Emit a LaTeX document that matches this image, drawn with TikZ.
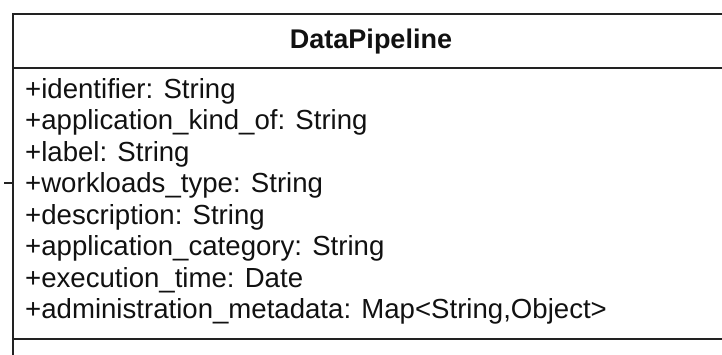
\documentclass[tikz,border=0pt]{standalone}
\usepackage{fontspec}
\setmainfont{Liberation Sans}
\usepackage{xcolor}
\usetikzlibrary{positioning}
\definecolor{umlline}{HTML}{222222}
\definecolor{umltext}{HTML}{111111}

\begin{document}
\begin{tikzpicture}[x=1pt, y=-1pt,
  classname/.style={anchor=base, inner sep=0pt, font=\fontsize{27}{31}\selectfont\bfseries, text=umltext},
  attr/.style={anchor=base west, inner sep=0pt, font=\fontsize{27.6}{31.5}\selectfont, text=umltext},
  frame/.style={draw=umlline, line width=1.4pt}
]
  \useasboundingbox (0,0) rectangle (722,354);
  % class box, cut by the right and bottom edges
  \draw[frame] (740,14) -- (13,14) -- (13,370);
  \draw[frame] (13,68) -- (740,68);
  \draw[frame] (13,339) -- (740,339);
  \node[classname] (title) at (371,48) {DataPipeline};
  \node[attr] (a1) at (25,98) {+identifier: String};
  \node[attr] (a2) at (25,129.5) {+application\_kind\_of: String};
  \node[attr] (a3) at (25,161) {+label: String};
  \node[attr] (a4) at (25,192.5) {+workloads\_type: String};
  \node[attr] (a5) at (25,224) {+description: String};
  \node[attr] (a6) at (25,255.5) {+application\_category: String};
  \node[attr] (a7) at (25,287) {+execution\_time: Date};
  \node[attr] (a8) at (25,318.5) {+administration\_metadata: Map<String,Object>};
  % stub of a connector on the left side
  \coordinate (stub) at (4,183);
  \draw[umlline, line width=1.2pt] (stub) -- (13,183);
\end{tikzpicture}
\end{document}
